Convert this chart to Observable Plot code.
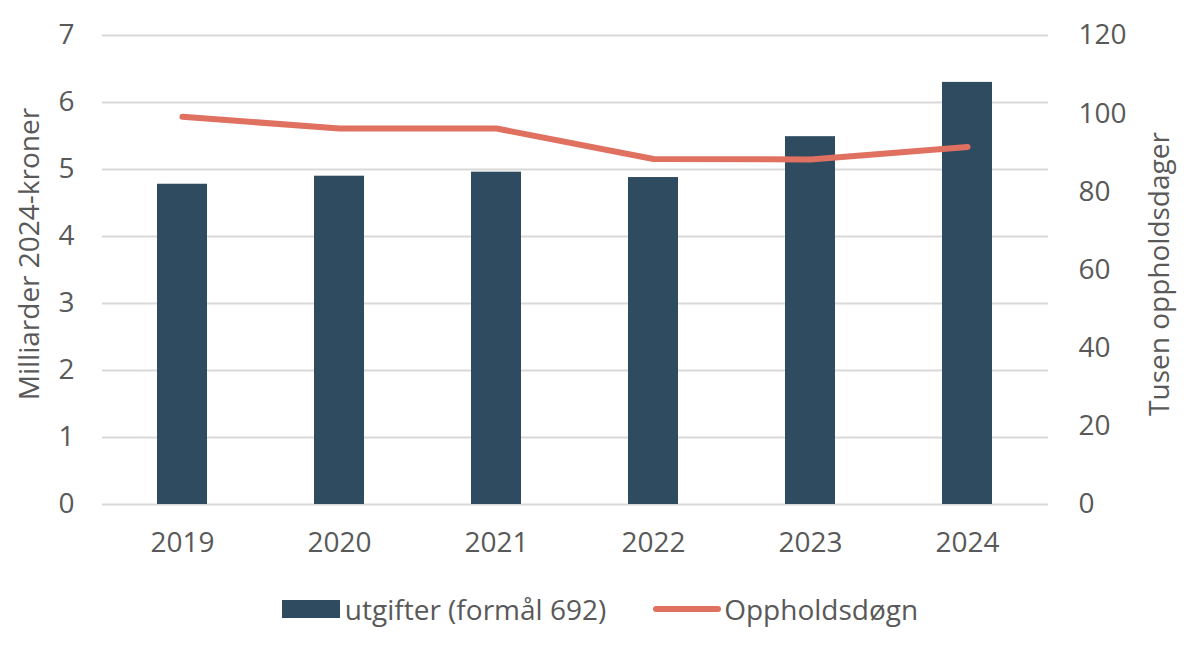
<!DOCTYPE html>
<html>
<head>
<meta charset="utf-8">
<script src="https://cdn.jsdelivr.net/npm/d3@7"></script>
<script src="https://cdn.jsdelivr.net/npm/@observablehq/plot@0.6"></script>
<style>
  html, body { margin: 0; padding: 0; background: #fff; }
  body { width: 1200px; height: 650px; overflow: hidden; font-family: "Open Sans", sans-serif; color: #595959; }
  #chart { position: relative; }
  .legend { position: absolute; top: 590px; left: 0; width: 1200px; display: flex; justify-content: center; align-items: center; font-size: 28px; color: #595959; }
  .legend .item { display: flex; align-items: center; }
  .sw-bar { width: 58px; height: 18px; background: #2f4b60; margin-right: 5px; }
  .sw-line { width: 68px; height: 6px; border-radius: 3px; background: #e07161; margin-right: 3px; margin-left: 47px; }
</style>
</head>
<body>
<div id="chart"></div>
<div class="legend">
  <div class="item"><div class="sw-bar"></div><span>utgifter (formål 692)</span></div>
  <div class="item"><div class="sw-line"></div><span>Oppholdsdøgn</span></div>
</div>
<script>
const years = ["2019", "2020", "2021", "2022", "2023", "2024"];
const utgifter = [4.78, 4.90, 4.96, 4.88, 5.49, 6.30];          // milliarder 2024-kroner
const oppholdsdogn = [99.2, 96.2, 96.2, 88.4, 88.3, 91.5];       // tusen oppholdsdager
const leftTicks = [0, 1, 2, 3, 4, 5, 6, 7];
const rightTicks = [0, 20, 40, 60, 80, 100, 120];
const barName = "utgifter (formål 692)";
const lineName = "Oppholdsdøgn";
const leftLabel = "Milliarder 2024-kroner";
const rightLabel = "Tusen oppholdsdager";

const ratio = 7 / 120;
const data = years.map((y, i) => ({year: y, value: utgifter[i], days: oppholdsdogn[i], daysScaled: oppholdsdogn[i] * ratio}));

const plot = Plot.plot({
  width: 1200,
  height: 570,
  marginLeft: 102,
  marginRight: 152,
  marginTop: 35,
  marginBottom: 66,
  style: {fontFamily: "'Open Sans', sans-serif", fontSize: "27px", color: "#595959", background: "#fff"},
  x: {type: "band", domain: years, paddingInner: 0.68, paddingOuter: 0.34, label: null},
  y: {domain: [0, 7], label: null},
  marks: [
    Plot.ruleY(leftTicks, {stroke: "#d9d9d9", strokeWidth: 2}),
    Plot.barY(data, {x: "year", y: "value", fill: "#2f4b60"}),
    Plot.line(data, {x: "year", y: "daysScaled", stroke: "#e07161", strokeWidth: 6, strokeLinecap: "round", strokeLinejoin: "round", curve: "linear"}),
    Plot.axisX({tickSize: 0, tickPadding: 28, label: null, fill: "#595959", fontSize: 28}),
    Plot.axisY({anchor: "left", ticks: leftTicks, tickFormat: d => String(d), tickSize: 0, tickPadding: 28, label: null, fill: "#595959", fontSize: 28}),
    Plot.axisY({anchor: "right", ticks: rightTicks.map(t => t * ratio), tickFormat: d => String(Math.round(d / ratio)), tickSize: 0, tickPadding: 30, label: null, fill: "#595959", fontSize: 28}),
    Plot.text([leftLabel], {frameAnchor: "left", textAnchor: "middle", dx: -72, dy: -16, rotate: -90, fontSize: 28, fill: "#595959"}),
    Plot.text([rightLabel], {frameAnchor: "right", textAnchor: "middle", dx: 112, dy: 4, rotate: -90, fontSize: 28, fill: "#595959"})
  ]
});
document.getElementById("chart").appendChild(plot);
</script>
</body>
</html>
